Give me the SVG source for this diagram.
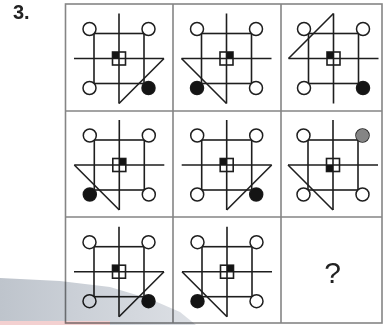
<svg xmlns="http://www.w3.org/2000/svg" width="383" height="325" viewBox="0 0 383 325">
<style>
.ln{fill:none;stroke:#1e1e1e;stroke-width:1.6}
.oc{fill:#fff;stroke:#1e1e1e;stroke-width:1.5}
.dot{fill:#141414}
.gdot{fill:#858585}
.q{fill:#141414}
.grid{fill:none;stroke:#858585;stroke-width:1.6}
.lbl{font-family:"Liberation Sans",Arial,sans-serif;fill:#222}
</style>
<defs>
<g id="base">
<path class="ln" d="M-45,0H45M0,-45V45"/>
<rect class="ln" x="-25" y="-25" width="50" height="50"/>
<rect class="ln" x="-6.5" y="-6.5" width="13" height="13"/>
<circle class="oc" cx="-29.5" cy="-29.5" r="6.5"/>
<circle class="oc" cx="29.5" cy="-29.5" r="6.5"/>
<circle class="oc" cx="-29.5" cy="29.5" r="6.5"/>
<circle class="oc" cx="29.5" cy="29.5" r="6.5"/>
</g>
<linearGradient id="wm" x1="0" y1="0" x2="1" y2="0">
<stop offset="0" stop-color="#bec4cc"/>
<stop offset="0.4" stop-color="#cbd0d7"/>
<stop offset="1" stop-color="#dde0e5"/>
</linearGradient>
</defs>
<rect width="383" height="325" fill="#fff"/>
<text class="lbl" x="13" y="18.5" font-size="20" font-weight="bold">3.</text>
<g id="grid">
<rect class="grid" x="65.5" y="4" width="316.5" height="319"/>
<path class="grid" d="M173,4V323M281,4V323M65.5,111H382M65.5,217H382"/>
</g>
<g id="cell-1-1" transform="translate(119,58.5)">
<use href="#base"/>
<line class="ln" x1="45" y1="0" x2="0" y2="45"/>
<rect class="q" x="-6.5" y="-6.5" width="6.5" height="6.5"/>
<circle class="dot" cx="29.5" cy="29.5" r="6.5"/>
</g>
<g id="cell-1-2" transform="translate(226.5,58.5)">
<use href="#base"/>
<line class="ln" x1="-45" y1="0" x2="0" y2="45"/>
<rect class="q" x="0" y="-6.5" width="6.5" height="6.5"/>
<circle class="dot" cx="-29.5" cy="29.5" r="6.5"/>
</g>
<g id="cell-1-3" transform="translate(333.5,58.5)">
<use href="#base"/>
<line class="ln" x1="-45" y1="0" x2="0" y2="-45"/>
<rect class="q" x="-6.5" y="-6.5" width="6.5" height="6.5"/>
<circle class="dot" cx="29.5" cy="29.5" r="6.5" fill="#262626"/>
</g>
<g id="cell-2-1" transform="translate(119.3,165)">
<use href="#base"/>
<line class="ln" x1="-45" y1="0" x2="0" y2="45"/>
<rect class="q" x="0" y="-6.5" width="6.5" height="6.5"/>
<circle class="dot" cx="-29.5" cy="29.5" r="6.5"/>
</g>
<g id="cell-2-2" transform="translate(226.7,165)">
<use href="#base"/>
<line class="ln" x1="45" y1="0" x2="0" y2="45"/>
<rect class="q" x="-6.5" y="-6.5" width="6.5" height="6.5"/>
<circle class="dot" cx="29.5" cy="29.5" r="6.5"/>
</g>
<g id="cell-2-3" transform="translate(333,165)">
<use href="#base"/>
<line class="ln" x1="-45" y1="0" x2="0" y2="45"/>
<rect class="q" x="-6.5" y="0" width="6.5" height="6.5"/>
<circle class="gdot" cx="29.5" cy="-29.5" r="6.5"/>
</g>
<g id="cell-3-1" transform="translate(119,271.7)">
<use href="#base"/>
<line class="ln" x1="45" y1="0" x2="0" y2="45"/>
<rect class="q" x="-6.5" y="-6.5" width="6.5" height="6.5"/>
<circle class="dot" cx="29.5" cy="29.5" r="6.5"/>
</g>
<g id="cell-3-2" transform="translate(227,271.7)">
<use href="#base"/>
<line class="ln" x1="-45" y1="0" x2="0" y2="45"/>
<rect class="q" x="0" y="-6.5" width="6.5" height="6.5"/>
<circle class="dot" cx="-29.5" cy="29.5" r="6.5"/>
</g>
<g id="cell-3-3">
<text class="lbl" x="332.5" y="283" font-size="30" text-anchor="middle">?</text>
</g>
<g id="watermark" style="mix-blend-mode:multiply">
<path d="M0,278 L60,281 L110,287 L150,299 L180,312 L196,325 L0,325 Z" fill="url(#wm)"/>
<rect x="0" y="321" width="110" height="4" fill="#f3d0d0"/>
</g>
</svg>
